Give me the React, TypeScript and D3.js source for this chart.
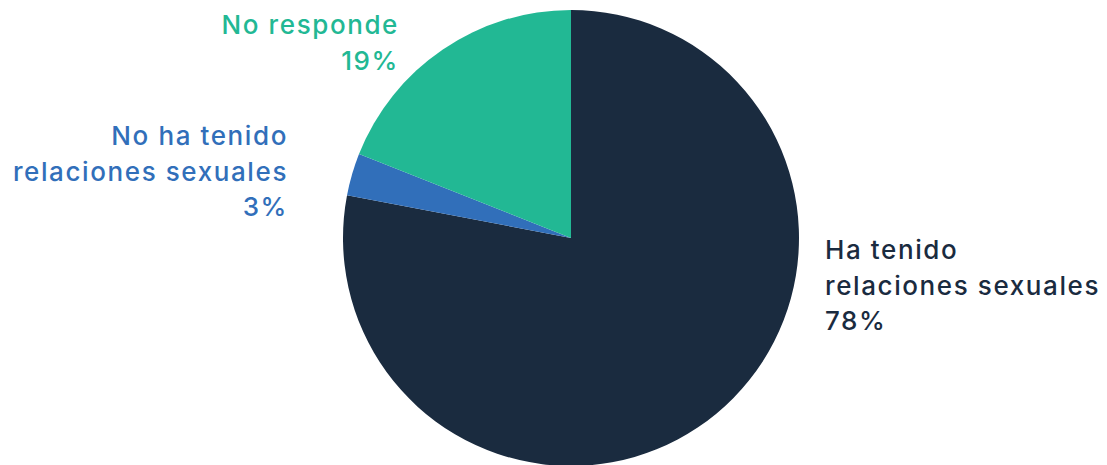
import React from "react";
import * as d3 from "d3";

const categories = ["Ha tenido relaciones sexuales", "No ha tenido relaciones sexuales", "No responde"];
const values = [78, 3, 19];
const colors = ["#1a2b3f", "#316fba", "#22b894"];

const labelLines = [
  ["Ha tenido", "relaciones sexuales", "78%"],
  ["No ha tenido", "relaciones sexuales", "3%"],
  ["No responde", "19%"],
];

export default function App() {
  const width = 1107;
  const height = 465;
  const cx = 571;
  const cy = 238;
  const r = 228;

  const pie = d3.pie<number>().sort(null).value((d) => d);
  const arcs = pie(values);
  const arc = d3.arc<d3.PieArcDatum<number>>().innerRadius(0).outerRadius(r);

  const labelPos = [
    { x: 825, y: 259, anchor: "start" },
    { x: 288, y: 145, anchor: "end" },
    { x: 399, y: 34, anchor: "end" },
  ];
  const lineH = 35.5;

  return (
    <svg width={width} height={height} style={{ position: "absolute", left: 0, top: 0 }}>
      <g transform={`translate(${cx},${cy})`}>
        {arcs.map((a, i) => (
          <path key={categories[i]} d={arc(a) || ""} fill={colors[i]} />
        ))}
      </g>
      {labelLines.map((lines, i) => (
        <text
          key={i}
          x={labelPos[i].x}
          y={labelPos[i].y}
          textAnchor={labelPos[i].anchor}
          fill={colors[i]}
          fontFamily="Inter, 'Noto Sans', sans-serif"
          fontWeight={500}
          fontSize={26}
          letterSpacing={1.6}
        >
          {lines.map((l, j) => (
            <tspan key={j} x={labelPos[i].x} dy={j === 0 ? 0 : lineH}>
              {l}
            </tspan>
          ))}
        </text>
      ))}
    </svg>
  );
}
